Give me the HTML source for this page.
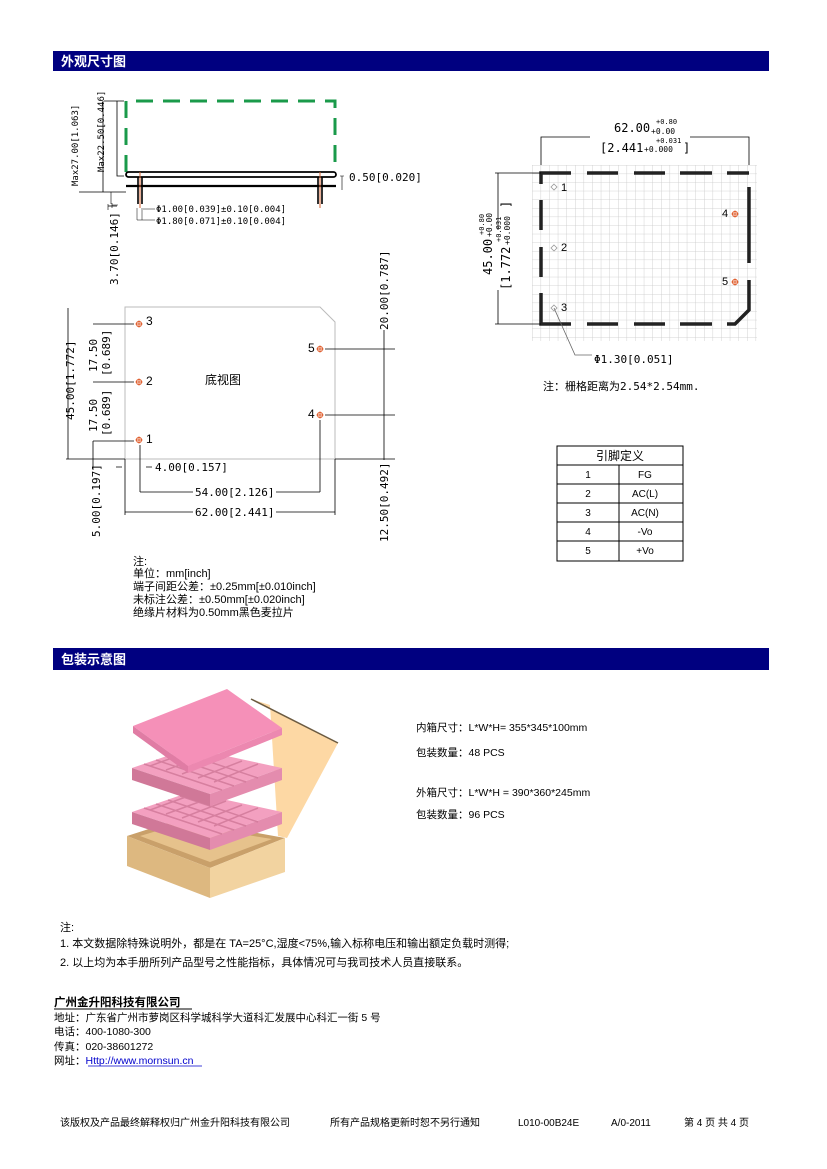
<!DOCTYPE html>
<html><head><meta charset="utf-8">
<style>
html,body{margin:0;padding:0;background:#fff}
svg{display:block}
text{font-family:"Liberation Sans","Noto Sans CJK SC",sans-serif}
text.m,.m text,.m tspan,tspan.m{font-family:"DejaVu Sans Mono","Liberation Mono","Noto Sans CJK SC",monospace}
</style></head><body>
<svg width="827" height="1169" viewBox="0 0 827 1169" xmlns="http://www.w3.org/2000/svg">
<defs>
<pattern id="g" x="532" y="165" width="8.6" height="8.6" patternUnits="userSpaceOnUse">
<path d="M0 0H8.6M0 0V8.6" stroke="#c8c8c8" stroke-width="0.8" fill="none"/>
</pattern>
<g id="pin"><circle r="2.6" fill="none" stroke="#e06030" stroke-width="1"/><path d="M-3.5 0H3.5M0 -3.5V3.5" stroke="#e06030" stroke-width="1"/></g>
<g id="hole"><path d="M0 -3L3 0L0 3L-3 0Z" fill="none" stroke="#999" stroke-width="0.8"/></g>
</defs>

<rect x="53" y="51" width="716" height="20" fill="#000080"/>
<text x="61" y="66" fill="#fff" font-size="13" font-weight="bold">外观尺寸图</text>
<rect x="53" y="648" width="716" height="22" fill="#000080"/>
<text x="61" y="664" fill="#fff" font-size="13" font-weight="bold">包装示意图</text>

<!-- side view -->
<g stroke="#000" fill="none">
<path d="M126 172V101H335V172" stroke="#1a9a4a" stroke-width="3" stroke-dasharray="17,10"/>
<rect x="126" y="172" width="210" height="5" rx="2.5" stroke-width="1.8"/>
<path d="M126 186H336" stroke-width="2.2"/>
<path d="M138 177V204M142 177V204M318 177V204M322 177V204" stroke-width="1.6"/>
<path d="M140 172V208M320 172V208" stroke="#d06030" stroke-width="1"/>
<path d="M104 101H124M103 101V192M79 192H126" stroke-width="0.8"/>
<path d="M117 101V176H124" stroke-width="0.8"/>
<path d="M111 192V204M112 205H118M108 204V210M112 203V208" stroke-width="0.6"/>
<path d="M108 206H117" stroke-width="0.8"/>
<path d="M342 176V190M340 176H344" stroke-width="0.6"/>
<path d="M137 208V220M142 208V220M143 209H155M137 220H155" stroke-width="0.5"/>
</g>
<text class="m" font-size="9" transform="translate(78,186) rotate(-90)">Max27.00[1.063]</text>
<text class="m" font-size="9" transform="translate(104,172) rotate(-90)">Max22.50[0.446]</text>
<text class="m" font-size="11" x="349" y="181">0.50[0.020]</text>
<text class="m" font-size="9" x="156" y="212">Φ1.00[0.039]±0.10[0.004]</text>
<text class="m" font-size="9" x="156" y="224">Φ1.80[0.071]±0.10[0.004]</text>
<text class="m" font-size="11" transform="translate(118,285) rotate(-90)">3.70[0.146]</text>

<!-- bottom view -->
<path d="M125 307H320L335 322V459H125Z" fill="none" stroke="#bbb" stroke-width="1"/>
<use href="#pin" x="139" y="324"/><use href="#pin" x="139" y="382"/><use href="#pin" x="139" y="440"/>
<use href="#pin" x="320" y="349"/><use href="#pin" x="320" y="415"/>
<g font-size="12"><text x="146" y="325">3</text><text x="146" y="385">2</text><text x="146" y="443">1</text>
<text x="308" y="352">5</text><text x="308" y="418">4</text>
<text x="205" y="384" font-size="12">底视图</text></g>
<g stroke="#000" stroke-width="0.8" fill="none">
<path d="M68 308V459M66 459H125"/>
<path d="M93 324H134M93 382H134M93 441H134M93 441V470"/>
<path d="M125 459V515M335 459V515M140 445V492M320 420V492"/>
<path d="M335 459H395M325 349H395M325 415H395M384 330V460"/>
<path d="M140 492H193M276 492H320M125 512H193M276 512H335M146 467H152M116 467H122"/>
</g>
<g class="m" font-size="11">
<text transform="translate(74,420) rotate(-90)">45.00[1.772]</text>
<text transform="translate(97,372) rotate(-90)">17.50</text>
<text transform="translate(110,376) rotate(-90)">[0.689]</text>
<text transform="translate(97,432) rotate(-90)">17.50</text>
<text transform="translate(110,436) rotate(-90)">[0.689]</text>
<text x="155" y="471">4.00[0.157]</text>
<text x="195" y="496">54.00[2.126]</text>
<text x="195" y="516">62.00[2.441]</text>
<text transform="translate(100,537) rotate(-90)">5.00[0.197]</text>
<text transform="translate(388,330) rotate(-90)">20.00[0.787]</text>
<text transform="translate(388,542) rotate(-90)">12.50[0.492]</text>
</g>
<g font-size="11">
<text x="133" y="565">注:</text>
<text x="133" y="577">单位：mm[inch]</text>
<text x="133" y="590">端子间距公差：±0.25mm[±0.010inch]</text>
<text x="133" y="603">未标注公差：±0.50mm[±0.020inch]</text>
<text x="133" y="616">绝缘片材料为0.50mm黑色麦拉片</text>
</g>

<!-- grid view -->
<rect x="532" y="165" width="225" height="176" fill="url(#g)"/>
<g stroke="#222" stroke-width="3.5" fill="none">
<path d="M541 184V173H571M587 173H618M634 173H665M680 173H712M727 173H749"/>
<path d="M541 200V230M541 247V277M541 293V324H571M587 324H618M634 324H665M680 324H712M727 324H735L749 310V280"/>
<path d="M749 187V263"/>
</g>
<g stroke="#000" stroke-width="0.8" fill="none">
<path d="M541 165V137H590M690 137H749V165"/>
<path d="M495 173H541M495 324H541M498 173V230M498 290V324"/>
<path d="M554 308L575 355H592" stroke="#666"/>
</g>
<use href="#hole" x="554" y="187"/><use href="#hole" x="554" y="248"/><use href="#hole" x="554" y="308"/>
<use href="#pin" x="735" y="214"/><use href="#pin" x="735" y="282"/>
<g font-size="11"><text x="561" y="191">1</text><text x="561" y="251">2</text><text x="561" y="311">3</text>
<text x="722" y="217">4</text><text x="722" y="285">5</text></g>
<g class="m">
<text x="614" y="132" font-size="12">62.00</text>
<text x="656" y="124" font-size="7">+0.80</text>
<text x="651" y="134" font-size="8">+0.00</text>
<text x="656" y="143" font-size="7">+0.031</text>
<text x="600" y="152" font-size="12">[2.441</text>
<text x="644" y="152" font-size="8">+0.000</text>
<text x="683" y="152" font-size="12">]</text>
<g transform="translate(492,275) rotate(-90)">
<text x="0" y="0" font-size="12">45.00</text><text x="40" y="-8" font-size="7">+0.80</text><text x="38" y="0" font-size="8">+0.00</text>
</g>
<g transform="translate(510,290) rotate(-90)">
<text x="0" y="0" font-size="12">[1.772</text><text x="48" y="-9" font-size="7">+0.031</text><text x="45" y="0" font-size="8">+0.000</text><text x="82" y="0" font-size="12">]</text>
</g>
<text x="594" y="363" font-size="11">Φ1.30[0.051]</text>
</g>
<text x="543" y="390" font-size="11">注：栅格距离为<tspan class="m">2.54*2.54mm.</tspan></text>

<!-- table -->
<g stroke="#000" stroke-width="1" fill="none">
<rect x="557" y="446" width="126" height="115"/>
<path d="M557 465H683M557 484H683M557 503H683M557 522H683M557 541H683M619 465V561"/>
</g>
<g font-size="10" text-anchor="middle">
<text x="620" y="460" font-size="12">引脚定义</text>
<text x="588" y="478">1</text><text x="645" y="478">FG</text>
<text x="588" y="497">2</text><text x="645" y="497">AC(L)</text>
<text x="588" y="516">3</text><text x="645" y="516">AC(N)</text>
<text x="588" y="535">4</text><text x="645" y="535">-Vo</text>
<text x="588" y="554">5</text><text x="645" y="554">+Vo</text>
</g>

<!-- packaging -->
<polygon points="251,699 338,743 287,838 278,836 270,705" fill="#fdd8a4"/>
<path d="M251,699 L338,743" stroke="#6b5a40" stroke-width="1.5"/>
<polygon points="127,836 180,819 285,838 210,868" fill="#c9a06a"/>
<polygon points="140,836 180,824 272,839 210,862" fill="#e6c28c"/>
<polygon points="127,836 210,868 210,898 127,866" fill="#ddb880"/>
<polygon points="210,868 285,838 285,872 210,898" fill="#f2d3a0"/>
<polygon points="132,812 190,792 282,812 210,838" fill="#f3a0c0"/>
<polygon points="132,812 210,838 210,850 132,824" fill="#d07898"/>
<polygon points="210,838 282,812 282,824 210,850" fill="#e48cae"/>
<g stroke="#d07898" stroke-width="1.5" opacity=".8">
<path d="M144,808 L222,834M156,804 L234,830M168,800 L246,826M180,796 L258,822M194,794 L150,810M210,798 L166,814M226,801 L182,818M242,805 L198,822M258,808 L214,826"/></g>
<polygon points="132,768 190,748 282,768 210,794" fill="#f3a0c0"/>
<polygon points="132,768 210,794 210,806 132,780" fill="#d07898"/>
<polygon points="210,794 282,768 282,780 210,806" fill="#e48cae"/>
<g stroke="#d07898" stroke-width="1.5" opacity=".8">
<path d="M144,764 L222,790M156,760 L234,786M168,756 L246,782M180,752 L258,778M194,750 L150,766M210,754 L166,770M226,757 L182,774M242,761 L198,778M258,764 L214,782"/></g>
<polygon points="133,726 227,689 282,728 188,766" fill="#f590b8"/>
<polygon points="133,726 188,766 188,773 133,733" fill="#e07ca4"/>
<polygon points="188,766 282,728 282,735 188,773" fill="#ec88b0"/>

<g font-size="10.5">
<text x="416" y="731">内箱尺寸：L*W*H= 355*345*100mm</text>
<text x="416" y="756">包装数量：48 PCS</text>
<text x="416" y="796">外箱尺寸：L*W*H = 390*360*245mm</text>
<text x="416" y="818">包装数量：96 PCS</text>
</g>
<g font-size="11">
<text x="60" y="931">注:</text>
<text x="60" y="947">1.  本文数据除特殊说明外，都是在 TA=25°C,湿度&lt;75%,输入标称电压和输出额定负载时测得;</text>
<text x="60" y="966">2.  以上均为本手册所列产品型号之性能指标，具体情况可与我司技术人员直接联系。</text>
</g>

<text x="54" y="1006" font-size="11.5" font-weight="bold">广州金升阳科技有限公司</text>
<path d="M54 1009H192" stroke="#000" stroke-width="1"/>
<g font-size="10.5">
<text x="54" y="1021">地址：广东省广州市萝岗区科学城科学大道科汇发展中心科汇一街 5 号</text>
<text x="54" y="1035">电话：400-1080-300</text>
<text x="54" y="1050">传真：020-38601272</text>
<text x="54" y="1064">网址：<tspan fill="#0000cc">Http://www.mornsun.cn</tspan></text>
</g>
<path d="M88 1066H202" stroke="#0000cc" stroke-width="0.8"/>
<g font-size="10">
<text x="60" y="1126">该版权及产品最终解释权归广州金升阳科技有限公司</text>
<text x="330" y="1126">所有产品规格更新时恕不另行通知</text>
<text x="518" y="1126">L010-00B24E</text>
<text x="611" y="1126">A/0-2011</text>
<text x="684" y="1126">第 4 页 共 4 页</text>
</g>
</svg>
</body></html>
